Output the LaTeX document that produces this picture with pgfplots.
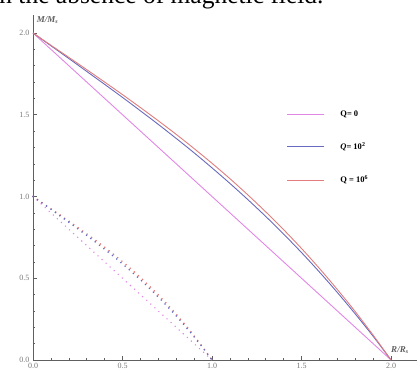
\documentclass[border=0pt]{standalone}
\usepackage{fontspec}
\setmainfont{Liberation Serif}
\usepackage{pgfplots}
\pgfplotsset{compat=1.18}
\definecolor{qzero}{RGB}{225,135,230}
\definecolor{qtwo}{RGB}{105,105,190}
\definecolor{qsix}{RGB}{225,125,125}
\definecolor{axgray}{RGB}{95,95,95}
\definecolor{lblgray}{RGB}{120,120,120}
\begin{document}
\begin{tikzpicture}
\node[anchor=base west, inner sep=0pt, font=\fontsize{25.5}{28}\selectfont] at (-8pt,374pt) {in the absence of magnetic field.};
\begin{axis}[
  at={(33pt,18pt)}, anchor=south west,
  scale only axis, width=384pt, height=345pt,
  xmin=0, xmax=2.145, ymin=0, ymax=2.11,
  axis lines*=left,
  axis line style={axgray, line width=0.8pt},
  tick style={axgray, line width=0.5pt},
  tick align=inside,
  major tick length=4pt, minor tick length=2pt,
  xtick={0,0.5,1,1.5,2}, ytick={0,0.5,1,1.5,2},
  minor x tick num=4, minor y tick num=4,
  /pgf/number format/.cd, fixed, fixed zerofill, precision=1, assume math mode=true,
  /pgfplots/.cd,
  tick label style={font=\fontsize{8}{9}\selectfont, text=lblgray},
  clip=false,
  legend cell align=left,
  legend image code/.code={\draw[#1, line width=1.1pt] (0pt,0pt) -- (37pt,0pt);},
  legend style={draw=none, fill=none, at={(axis cs:1.397,1.30)}, anchor=west,
    font=\fontsize{8.5}{9}\selectfont\bfseries, row sep=21pt,
    /tikz/every odd column/.style={column sep=14pt}},
]
\addplot[color=qzero, line width=0.9pt] coordinates {(0,2) (2,0)};
\addlegendentry{Q= 0}
\addplot[color=qtwo, line width=0.9pt, smooth] coordinates {
(0,2) (0.1,1.922) (0.2,1.844) (0.3,1.765) (0.4,1.686) (0.5,1.606) (0.6,1.524) (0.7,1.441) (0.8,1.355) (0.9,1.267) (1.0,1.175)
(1.1,1.080) (1.2,0.981) (1.3,0.878) (1.4,0.770) (1.5,0.657) (1.6,0.538) (1.7,0.413) (1.8,0.282) (1.9,0.145) (2.0,0)};
\addlegendentry{{\itshape Q}= 10\textsuperscript{2}}
\addplot[color=qsix, line width=0.9pt, smooth] coordinates {
(0,2) (0.1,1.925) (0.2,1.851) (0.3,1.776) (0.4,1.700) (0.5,1.623) (0.6,1.544) (0.7,1.463) (0.8,1.380) (0.9,1.293) (1.0,1.203)
(1.1,1.109) (1.2,1.010) (1.3,0.906) (1.4,0.797) (1.5,0.682) (1.6,0.560) (1.7,0.431) (1.8,0.296) (1.9,0.152) (2.0,0)};
\addlegendentry{Q = 10\textsuperscript{6}}
% dotted small-scale curves
\addplot[forget plot, color=qzero, line width=1.6pt, line cap=round, dash pattern=on 0pt off 5.5pt] coordinates {(0,1) (1,0)};
\addplot[forget plot, color=qsix, line width=1.8pt, line cap=round, dash pattern=on 0pt off 5.5pt, smooth] coordinates {
(0,1) (0.05,0.9625) (0.1,0.9253) (0.15,0.8878) (0.2,0.850) (0.25,0.8115) (0.3,0.772) (0.35,0.7315) (0.4,0.690) (0.45,0.6465) (0.5,0.6015)
(0.55,0.5545) (0.6,0.505) (0.65,0.453) (0.7,0.3985) (0.75,0.341) (0.8,0.280) (0.85,0.2155) (0.9,0.148) (0.95,0.076) (1.0,0)};
\addplot[forget plot, color=qtwo, line width=1.8pt, line cap=round, dash pattern=on 0pt off 5.5pt, smooth] coordinates {
(0,1) (0.05,0.961) (0.1,0.922) (0.15,0.8825) (0.2,0.843) (0.25,0.803) (0.3,0.762) (0.35,0.7205) (0.4,0.6775) (0.45,0.6335) (0.5,0.5875)
(0.55,0.540) (0.6,0.4905) (0.65,0.439) (0.7,0.385) (0.75,0.3285) (0.8,0.269) (0.85,0.2065) (0.9,0.141) (0.95,0.0725) (1.0,0)};
\node[anchor=west, inner sep=0pt, text=axgray, font=\fontsize{9}{10}\selectfont\bfseries\itshape] at (axis cs:0.02,2.08) {M/M\textsubscript{s}};
\node[anchor=south west, inner sep=0pt, text=axgray, font=\fontsize{9}{10}\selectfont\bfseries\itshape] at (axis cs:2.0,0.04) {R/R\textsubscript{s}};
\end{axis}
\pgfresetboundingbox
\useasboundingbox (0pt,0pt) rectangle (417pt,378pt);
\end{tikzpicture}
\end{document}
